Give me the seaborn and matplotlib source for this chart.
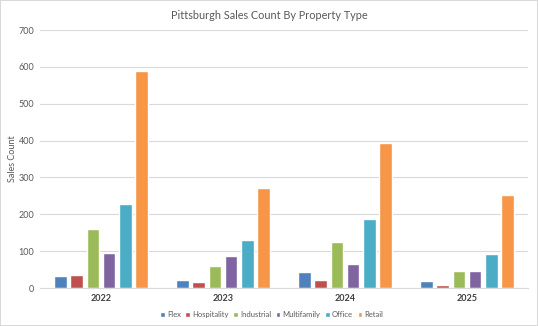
import matplotlib
matplotlib.use("Agg")
import matplotlib.pyplot as plt
import seaborn as sns
import pandas as pd

years = ["2022", "2023", "2024", "2025"]
property_types = ["Flex", "Hospitality", "Industrial", "Multifamily", "Office", "Retail"]
flex = [32, 23, 43, 20]
hospitality = [35, 16, 23, 7]
industrial = [160, 59, 125, 45]
multifamily = [96, 87, 66, 46]
office = [227, 130, 186, 93]
retail = [588, 272, 393, 252]
colors = ["#4F81BD", "#C0504D", "#9BBB59", "#8064A2", "#4BACC6", "#F79646"]

series = [flex, hospitality, industrial, multifamily, office, retail]
rows = []
for ptype, vals in zip(property_types, series):
    for yr, v in zip(years, vals):
        rows.append({"Year": yr, "Type": ptype, "Count": v})
df = pd.DataFrame(rows)

sns.set_theme(style="white")
plt.rcParams["font.family"] = ["Lato", "DejaVu Sans"]

fig = plt.figure(figsize=(5.38, 3.26), dpi=100)
fig.patch.set_edgecolor("#D9D9D9")
fig.patch.set_linewidth(1.2)
ax = fig.add_axes([40 / 538, 1 - 288 / 326, 488 / 538, 258 / 326])

sns.barplot(data=df, x="Year", y="Count", hue="Type", order=years,
            hue_order=property_types, palette=colors, width=0.8, gap=0.24,
            saturation=1, ax=ax, legend=True)

ax.set_ylim(0, 700)
ax.set_xlim(-0.5, 3.5)
ax.set_yticks(range(0, 701, 100))
ax.yaxis.grid(True, color="#D9D9D9", linewidth=0.8)
ax.set_axisbelow(True)
for s in ["top", "right", "left"]:
    ax.spines[s].set_visible(False)
ax.spines["bottom"].set_color("#D9D9D9")
ax.spines["bottom"].set_linewidth(0.8)
ax.tick_params(axis="both", length=0, labelsize=6.5, colors="#595959", pad=4)
for lbl in ax.get_xticklabels():
    lbl.set_fontweight("bold")
    lbl.set_color("#404040")
ax.set_xlabel("")
ax.set_ylabel("Sales Count", fontsize=6.5, color="#595959", labelpad=1)

fig.suptitle("Pittsburgh Sales Count By Property Type", x=0.5, y=0.97,
             fontsize=7.8, color="#595959")

handles, labels = ax.get_legend_handles_labels()
ax.get_legend().remove()
fig.legend(handles, labels, loc="center", bbox_to_anchor=(0.505, 0.035),
           ncol=6, frameon=False, fontsize=5.5, handlelength=0.6, handleheight=0.6,
           handletextpad=0.3, columnspacing=0.6, labelcolor="#595959")

fig.savefig("out.png", dpi=100)
